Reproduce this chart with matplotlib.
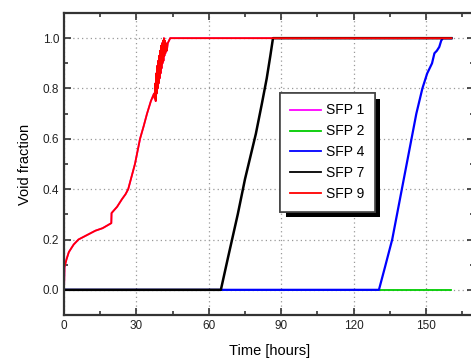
import matplotlib.pyplot as plt
from matplotlib.ticker import MultipleLocator
import matplotlib.patheffects as pe

plt.rcParams['font.family'] = ['Liberation Sans', 'DejaVu Sans']

# void fraction vs time for each spent fuel pool
t_sfp9 = [0, 0.2, 1, 2, 4, 6, 8, 10, 13, 16, 19.6, 19.7, 22, 24, 25.5, 26.6, 28, 29.4, 31.5, 33, 34.4, 36, 37.3,
          37.6, 37.8, 38.0, 38.2, 38.4, 38.6, 38.8, 39.0, 39.2, 39.4, 39.6, 39.8, 40.0, 40.2, 40.4, 40.6, 40.8,
          41.0, 41.2, 41.4, 41.6, 41.8, 42.0, 42.3, 42.6, 43, 44, 160.5]
v_sfp9 = [0.0, 0.09, 0.12, 0.15, 0.18, 0.2, 0.21, 0.22, 0.235, 0.245, 0.265, 0.305, 0.33, 0.36, 0.38, 0.4, 0.45, 0.5,
          0.6, 0.65, 0.7, 0.75, 0.78,
          0.76, 0.82, 0.75, 0.86, 0.78, 0.89, 0.8, 0.91, 0.82, 0.93, 0.84, 0.95, 0.86, 0.97, 0.88, 0.98, 0.9,
          0.99, 0.91, 1.0, 0.93, 0.99, 0.94, 0.98, 0.95, 0.98, 1.0, 1.0]

t_sfp1 = t_sfp9
v_sfp1 = v_sfp9

t_sfp2 = [0, 160.5]
v_sfp2 = [0.0, 0.0]

t_sfp4 = [0, 130.5, 133, 136, 138, 140, 142, 144, 146, 148.5, 150.5, 152.5, 153.5, 154.5, 155.5, 156.3, 157, 160.5]
v_sfp4 = [0.0, 0.0, 0.09, 0.2, 0.3, 0.4, 0.5, 0.6, 0.7, 0.8, 0.86, 0.9, 0.94, 0.95, 0.965, 0.99, 1.0, 1.0]

t_sfp7 = [0, 65, 68, 72, 75, 79.5, 82, 84, 85.5, 86.6, 160.5]
v_sfp7 = [0.0, 0.0, 0.13, 0.3, 0.44, 0.62, 0.74, 0.84, 0.93, 1.0, 1.0]

fig = plt.figure(figsize=(4.71, 3.58), dpi=100)
ax = fig.add_axes([0.1359, 0.1201, 0.871, 0.8436])

ax.plot(t_sfp1, v_sfp1, color='#ff00ff', lw=1.3, label='SFP 1')
ax.plot(t_sfp2, v_sfp2, color='#00cc00', lw=1.3, label='SFP 2')
ax.plot(t_sfp4, v_sfp4, color='#0000ff', lw=1.6, label='SFP 4')
ax.plot(t_sfp7, v_sfp7, color='#000000', lw=1.8, label='SFP 7')
ax.plot(t_sfp9, v_sfp9, color='#ff0000', lw=1.3, label='SFP 9')

ax.set_xlim(0, 170)
ax.set_ylim(-0.1, 1.1)
ax.xaxis.set_major_locator(MultipleLocator(30))
ax.xaxis.set_minor_locator(MultipleLocator(15))
ax.yaxis.set_minor_locator(MultipleLocator(0.1))
ax.set_yticks([0.0, 0.2, 0.4, 0.6, 0.8, 1.0])
ax.set_yticklabels(['0.0', '0.2', '0.4', '0.6', '0.8', '1.0'])

ax.tick_params(which='both', direction='in', top=True, right=True, colors='#333333', labelcolor='#222222',
               labelsize=8.5, width=1.2)
ax.tick_params(which='major', length=5)
ax.tick_params(which='minor', length=3)
for s in ax.spines.values():
    s.set_linewidth(1.6)
    s.set_color('#333333')

ax.grid(True, which='major', linestyle=(0, (1, 2.5)), color='#999999', linewidth=0.9)

ax.set_xlabel('Time [hours]', fontsize=10.5, labelpad=9)
ax.set_ylabel('Void fraction', fontsize=10.5, labelpad=8)

leg = ax.legend(loc='upper left', bbox_to_anchor=(280 / 471, 1 - 93 / 358), bbox_transform=fig.transFigure,
                fontsize=10, fancybox=False, framealpha=1, edgecolor='#444444', handlelength=2.2,
                labelspacing=0.5, borderpad=0.75, handletextpad=0.35, borderaxespad=0)
leg.get_frame().set_linewidth(1.2)
leg.get_frame().set_path_effects([pe.withSimplePatchShadow(offset=(4, -4), shadow_rgbFace='k', alpha=1),
                                  pe.Normal()])
for line in leg.get_lines():
    line.set_linewidth(1.3)

fig.savefig('out.png', dpi=100)
